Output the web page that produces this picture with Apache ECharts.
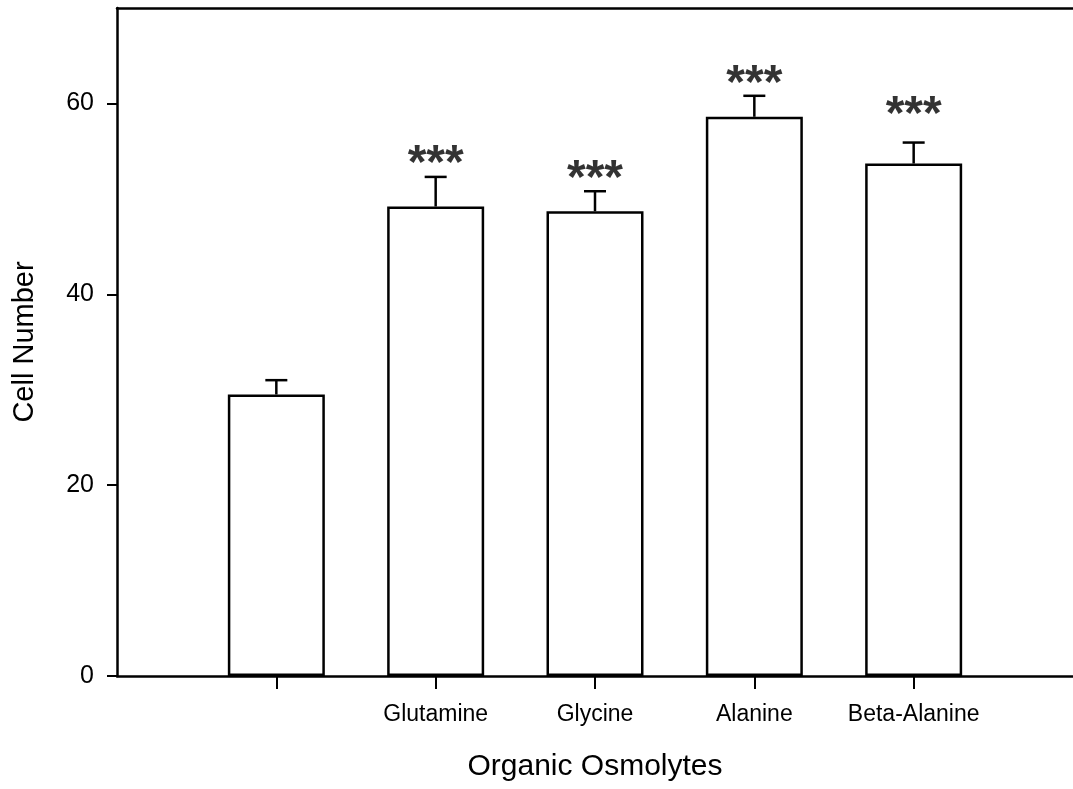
<!DOCTYPE html>
<html>
<head>
<meta charset="utf-8">
<script src="https://cdn.jsdelivr.net/npm/echarts@6/dist/echarts.min.js"></script>
<style>
  html, body { margin: 0; padding: 0; background: #fff; }
  #chart { width: 1073px; height: 789px; }
</style>
</head>
<body>
<div id="chart"></div>
<script>
// Treatment groups (the control group has no label)
const categories = ['', 'Glutamine', 'Glycine', 'Alanine', 'Beta-Alanine'];
// Mean cell number per group
const cellNumber = [29.5, 49.2, 48.7, 58.6, 53.7];
// Standard error (upper bar only)
const cellError = [1.5, 3.1, 2.1, 2.2, 2.2];
// Significance markers and the height they sit at
const sigMarks = ['', '***', '***', '***', '***'];
const sigHeight = [null, 54.5, 52.9, 62.9, 59.7];
// Y axis tick labels
const yTicks = [0, 20, 40, 60];

const FONT = '"Liberation Sans", Arial, Helvetica, sans-serif';
const positions = categories.map((_, i) => i + 1);

const barData = positions.map((x, i) => [x, cellNumber[i]]);
const errData = positions.map((x, i) => [x, cellNumber[i], cellError[i]]);
const starData = [];
positions.forEach((x, i) => {
  if (sigMarks[i]) starData.push({ value: [x, sigHeight[i]], mark: sigMarks[i] });
});

const chart = echarts.init(document.getElementById('chart'), null, { renderer: 'canvas' });

chart.setOption({
  animation: false,
  backgroundColor: '#ffffff',
  textStyle: { fontFamily: FONT, color: '#000' },
  grid: { left: 117, right: -5, top: 8, bottom: 113, containLabel: false },
  xAxis: [
    {
      type: 'value',
      min: 0,
      max: 6,
      interval: 1,
      splitLine: { show: false },
      axisLine: { show: true, onZero: false, lineStyle: { color: '#000', width: 2.5 } },
      axisTick: {
        show: true, inside: false, length: 13, customValues: positions,
        lineStyle: { color: '#000', width: 2 }
      },
      axisLabel: {
        show: true, customValues: positions, margin: 27,
        fontFamily: FONT, fontSize: 23, color: '#000',
        formatter: v => categories[Math.round(v) - 1] || ''
      },
      name: 'Organic Osmolytes',
      nameLocation: 'middle',
      nameGap: 76,
      nameTextStyle: { fontFamily: FONT, fontSize: 30, color: '#000' }
    },
    {
      type: 'value',
      position: 'top',
      min: 0,
      max: 6,
      axisLine: { show: true, onZero: false, lineStyle: { color: '#000', width: 2.5 } },
      axisTick: { show: false },
      axisLabel: { show: false },
      splitLine: { show: false }
    }
  ],
  yAxis: {
    type: 'value',
    min: 0,
    max: 70,
    interval: 20,
    splitLine: { show: false },
    axisLine: { show: true, onZero: false, lineStyle: { color: '#000', width: 2.5 } },
    axisTick: {
      show: true, length: 10, customValues: yTicks,
      lineStyle: { color: '#000', width: 2 }
    },
    axisLabel: {
      show: true, customValues: yTicks, margin: 23,
      fontFamily: FONT, fontSize: 25, color: '#000'
    },
    name: 'Cell Number',
    nameLocation: 'middle',
    nameGap: 78,
    nameTextStyle: { fontFamily: FONT, fontSize: 29, color: '#000' }
  },
  series: [
    {
      type: 'bar',
      xAxisIndex: 0,
      data: barData,
      barWidth: 97,
      itemStyle: { color: '#ffffff', borderColor: '#000', borderWidth: 2.5 },
      z: 2
    },
    {
      type: 'custom',
      xAxisIndex: 0,
      data: errData,
      z: 3,
      renderItem: (params, api) => {
        const x = api.value(0);
        const y = api.value(1);
        const e = api.value(2);
        const base = api.coord([x, y]);
        const top = api.coord([x, y + e]);
        const half = 11;
        const style = { stroke: '#000', lineWidth: 2.5 };
        return {
          type: 'group',
          children: [
            { type: 'line', shape: { x1: base[0], y1: base[1], x2: top[0], y2: top[1] }, style },
            { type: 'line', shape: { x1: top[0] - half, y1: top[1], x2: top[0] + half, y2: top[1] }, style }
          ]
        };
      }
    },
    {
      type: 'scatter',
      xAxisIndex: 0,
      data: starData,
      symbolSize: 0,
      z: 4,
      label: {
        show: true,
        position: 'inside',
        offset: [0, 9],
        formatter: p => p.data.mark,
        fontFamily: FONT,
        fontSize: 48,
        fontWeight: 'bold',
        color: '#000'
      }
    }
  ]
});
</script>
</body>
</html>
